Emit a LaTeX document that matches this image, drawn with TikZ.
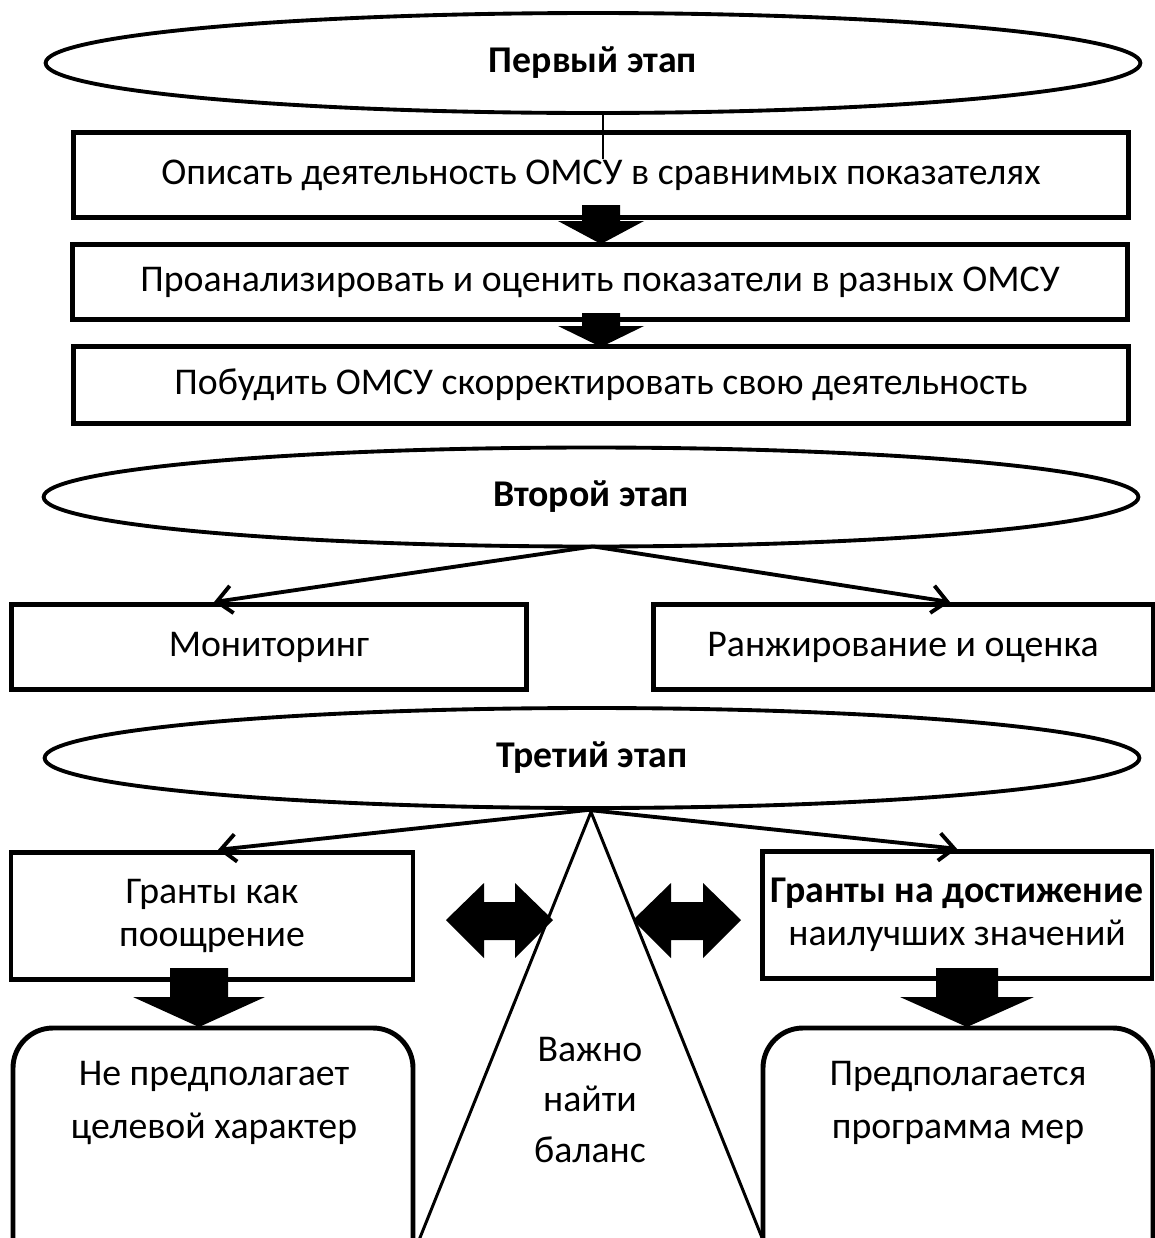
\documentclass[tikz,border=0pt]{standalone}
\usepackage{fontspec}
\setmainfont{Carlito}
\usetikzlibrary{shapes,arrows,arrows.meta,calc}
\newcommand{\txt}{\fontsize{21.5}{24.5}\selectfont}
\tikzset{
	stage/.style  = {draw, ellipse, line width=2.2pt, inner sep=0pt, font=\txt\bfseries,
		minimum width=21.9cm, minimum height=2cm},
	task/.style   = {draw, rectangle, line width=2.8pt, inner sep=0pt, minimum width=21.1cm},
	kind/.style   = {draw, rectangle, line width=2.8pt, inner sep=0pt, minimum height=1.7cm},
	grant/.style  = {draw, rectangle, line width=2.8pt, inner sep=0pt, align=center,
		minimum height=2.55cm},
	result/.style = {draw, line width=2.8pt, rounded corners=0.8cm},
	plain/.style  = {align=center, inner sep=0pt},
	link/.style   = {->, line width=2.2pt}
}
% block arrow pointing down: x, shaft half width, head half width, top, head, tip
\newcommand{\blockdown}[6]{\fill (#1-#2,#4) -- (#1+#2,#4) -- (#1+#2,#5) -- (#1+#3,#5)
	-- (#1,#6) -- (#1-#3,#5) -- (#1-#2,#5) -- cycle;}
% double block arrow: left end, right end
\newcommand{\blockboth}[2]{\fill (#1,920) -- (#1+38,883) -- (#1+38,902) -- (#2-38,902)
	-- (#2-38,883) -- (#2,920) -- (#2-38,958) -- (#2-38,940) -- (#1+38,940)
	-- (#1+38,958) -- cycle;}

\begin{document}
\begin{tikzpicture}[x=0.02cm, y=-0.02cm, >={Straight Barb[length=3mm,width=5.5mm]},
	font=\txt]
	\useasboundingbox (0,0) rectangle (1155,1238);
	\clip (0,0) rectangle (1155,1238);
	
	\draw
	node at (593,63) [stage] (e1) {Первый этап}
	node at (601,175) [task, minimum height=1.7cm] (b1) {Описать деятельность ОМСУ в сравнимых показателях}
	node at (600,282) [task, minimum height=1.5cm] (b2) {Проанализировать и оценить показатели в разных ОМСУ}
	node at (601,385) [task, minimum height=1.54cm] (b3) {Побудить ОМСУ скорректировать свою деятельность};
	
	\draw[line width=1.7pt] ([xshift=0.2cm]e1.south) -- ++(0,44);
	\blockdown{601}{19}{43}{205}{221}{244}
	\blockdown{601}{19}{43}{313}{326}{347}
	
	\draw
	node at (591,497) [stage, minimum width=21.9cm, minimum height=1.98cm] (e2) {Второй этап}
	node at (269,647) [kind, minimum width=10.3cm] (mon) {Мониторинг}
	node at (903,647) [kind, minimum width=10cm] (rank) {Ранжирование и оценка};
	
	\draw[link] ($(e2.south)+(2,-2)$) -- ($(mon.north)+(-55,0)$);
	\draw[link] ($(e2.south)+(2,-2)$) -- ($(rank.north)+(47,0)$);
	
	\draw
	node at (592,758) [stage] (e3) {Третий этап}
	node at (212,916) [grant, minimum width=8.04cm] (g1) {Гранты как\\поощрение}
	node at (957,915) [grant, minimum width=7.8cm] (g2) {{\bfseries Гранты на достижение}\\наилучших значений};
	
	\draw[link] ($(e3.south)+(-4,0)$) -- ($(g1.north)+(6,0)$);
	\draw[link] ($(e3.south)+(-4,0)$) -- (g2.north);
	
	% balance
	\draw[line width=1.7pt] (407,1270) -- ($(e3.south)+(-1,2)$) -- (775,1270);
	\blockboth{446}{553}
	\blockboth{633}{741}
	\blockdown{199}{29}{66}{968}{997}{1027}
	\blockdown{967}{31}{67}{968}{997}{1027}
	
	\draw[result] (13,1028) rectangle (413,1300);
	\draw[result] (763,1028) rectangle (1153,1300);
	\draw
	node at (214,1103) [plain, font=\fontsize{21.5}{30}\selectfont] (nogoal) {Не предполагает\\целевой характер}
	node at (958,1103) [plain, font=\fontsize{21.5}{30}\selectfont] (measures) {Предполагается\\программа мер}
	node at (590,1100) [plain, font=\fontsize{21.5}{28.5}\selectfont] (balance) {Важно\\найти\\баланс};
	
\end{tikzpicture}
\end{document}
